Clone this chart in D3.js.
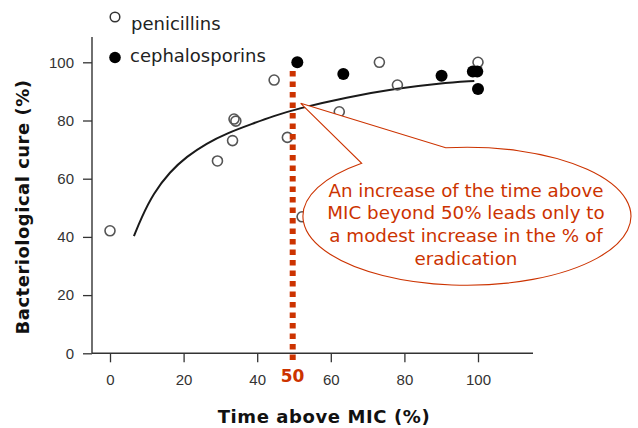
<!DOCTYPE html>
<html>
<head>
<meta charset="utf-8">
<script src="https://cdn.jsdelivr.net/npm/d3@7"></script>
<style>
  html, body { margin: 0; padding: 0; background: #fff; }
  svg { display: block; }
</style>
</head>
<body>
<svg id="chart" width="638" height="428"></svg>
<script>
// ---------------- data ----------------
const seriesNames = ["penicillins", "cephalosporins"];
const penicillinsX = [0, 29.2, 33.3, 33.7, 34.2, 44.6, 48.2, 52.2, 62.3, 73.2, 78.1, 100];
const penicillinsY = [42.1, 66.1, 73.1, 80.5, 79.8, 93.9, 74.2, 46.9, 83.0, 100, 92.2, 100];
const cephalosporinsX = [50.9, 63.4, 90.1, 98.6, 99.8, 100];
const cephalosporinsY = [100, 96.0, 95.4, 96.8, 96.8, 90.8];
// fitted curve
const curveX = [6.5, 8.5, 11.8, 16.3, 20.8, 26.3, 31.7, 38.9, 44.4, 50.7, 64.3, 77.9, 89.7, 99];
const curveY = [40.3, 46.5, 55.0, 62.4, 67.6, 72.2, 75.6, 79.0, 81.5, 84.0, 88.0, 91.0, 92.8, 93.6];
const xTicks = [0, 20, 40, 60, 80, 100];
const yTicks = [0, 20, 40, 60, 80, 100];
const thresholdX = 50;
const calloutLines = ["An increase of the time above", "MIC beyond 50% leads only to", "a modest increase in the % of", "eradication"];
const xTitle = "Time above MIC (%)";
const yTitle = "Bacteriological cure (%)";

// ---------------- layout ----------------
const RED = "#CC3300";
const svg = d3.select("#chart");
const x = d3.scaleLinear().domain([0, 100]).range([110, 478]);
const y = d3.scaleLinear().domain([0, 100]).range([353.3, 62.3]);
const axisX0 = 92, axisXEnd = 533, axisYTop = 37;

// axes
const gy = svg.append("g").attr("transform", `translate(${axisX0},0)`)
  .call(d3.axisLeft(y).tickValues(yTicks).tickSize(9).tickPadding(9).tickSizeOuter(0));
gy.select(".domain").remove();
gy.selectAll("line").attr("stroke", "#333").attr("stroke-width", 1.3);
gy.selectAll("text").attr("font-family", "Liberation Sans, Arial, sans-serif")
  .attr("font-size", 15).attr("fill", "#333");
svg.append("line").attr("x1", axisX0).attr("x2", axisX0)
  .attr("y1", y(0)).attr("y2", axisYTop).attr("stroke", "#333").attr("stroke-width", 1.4);

const gx = svg.append("g").attr("transform", `translate(0,${y(0)})`)
  .call(d3.axisBottom(x).tickValues(xTicks).tickSize(9).tickPadding(12).tickSizeOuter(0));
gx.select(".domain").remove();
gx.selectAll("line").attr("stroke", "#333").attr("stroke-width", 1.3);
gx.selectAll("text").attr("font-family", "Liberation Sans, Arial, sans-serif")
  .attr("font-size", 15).attr("fill", "#333");
svg.append("line").attr("x1", axisX0).attr("x2", axisXEnd)
  .attr("y1", y(0)).attr("y2", y(0)).attr("stroke", "#333").attr("stroke-width", 1.4);

// axis titles
svg.append("text").attr("x", 324).attr("y", 423)
  .attr("text-anchor", "middle").attr("font-family", "DejaVu Sans, Verdana, sans-serif")
  .attr("font-weight", "bold").attr("font-size", 18).attr("letter-spacing", 0.6)
  .attr("fill", "#111").text(xTitle);
svg.append("text").attr("transform", "translate(22,207) rotate(-90)")
  .attr("text-anchor", "middle").attr("dominant-baseline", "central")
  .attr("font-family", "DejaVu Sans, Verdana, sans-serif")
  .attr("font-weight", "bold").attr("font-size", 18).attr("letter-spacing", 0.5)
  .attr("fill", "#111").text(yTitle);

// fitted curve
const curvePts = curveX.map((v, i) => [v, curveY[i]]);
svg.append("path").datum(curvePts)
  .attr("d", d3.line().x(d => x(d[0])).y(d => y(d[1])).curve(d3.curveBasis))
  .attr("fill", "none").attr("stroke", "#1a1a1a").attr("stroke-width", 2);

// points
const pen = penicillinsX.map((v, i) => ({x: v, y: penicillinsY[i]}));
const ceph = cephalosporinsX.map((v, i) => ({x: v, y: cephalosporinsY[i]}));
svg.append("g").selectAll("circle").data(pen).join("circle")
  .attr("cx", d => x(d.x)).attr("cy", d => y(d.y)).attr("r", 5)
  .attr("fill", "none").attr("stroke", "#555").attr("stroke-width", 1.6);
svg.append("g").selectAll("circle").data(ceph).join("circle")
  .attr("cx", d => x(d.x)).attr("cy", d => y(d.y)).attr("r", 6)
  .attr("fill", "#000");

// legend
svg.append("circle").attr("cx", 115).attr("cy", 17).attr("r", 4.8)
  .attr("fill", "none").attr("stroke", "#333").attr("stroke-width", 1.5);
svg.append("circle").attr("cx", 115).attr("cy", 57.5).attr("r", 5.8).attr("fill", "#000");
svg.append("text").attr("x", 131).attr("y", 30).attr("font-family", "DejaVu Sans, Verdana, sans-serif")
  .attr("font-size", 18).attr("fill", "#222").text(seriesNames[0]);
svg.append("text").attr("x", 130).attr("y", 62).attr("font-family", "DejaVu Sans, Verdana, sans-serif")
  .attr("font-size", 18).attr("fill", "#222").text(seriesNames[1]);

// threshold dotted line
svg.append("line").attr("x1", x(thresholdX) - 1.3).attr("x2", x(thresholdX) - 1.3)
  .attr("y1", 71).attr("y2", 362)
  .attr("stroke", RED).attr("stroke-width", 6).attr("stroke-dasharray", "5.5,5");
svg.append("text").attr("x", x(thresholdX) - 1.5).attr("y", 382)
  .attr("text-anchor", "middle").attr("font-family", "DejaVu Sans, Verdana, sans-serif")
  .attr("font-weight", "bold").attr("font-size", 17).attr("fill", RED).text(String(thresholdX));

// callout (wedge ellipse)
const cx = 465, cy = 216, rx = 164, ry = 69;
const tip = [300.7, 103.3], b1 = [361.7, 163.3], b2 = [445.7, 147.8];
svg.append("path")
  .attr("d", `M${b2[0]},${b2[1]} A${rx},${ry} 0 1 1 ${b1[0]},${b1[1]} L${tip[0]},${tip[1]} Z`)
  .attr("fill", "#fff").attr("stroke", RED).attr("stroke-width", 1.1);
const ct = svg.append("text").attr("text-anchor", "middle")
  .attr("font-family", "DejaVu Sans, Verdana, sans-serif").attr("font-size", 18.3).attr("fill", RED);
calloutLines.forEach((t, i) => {
  ct.append("tspan").attr("x", 466).attr("y", 196.5 + i * 22.7).text(t);
});
</script>
</body>
</html>
